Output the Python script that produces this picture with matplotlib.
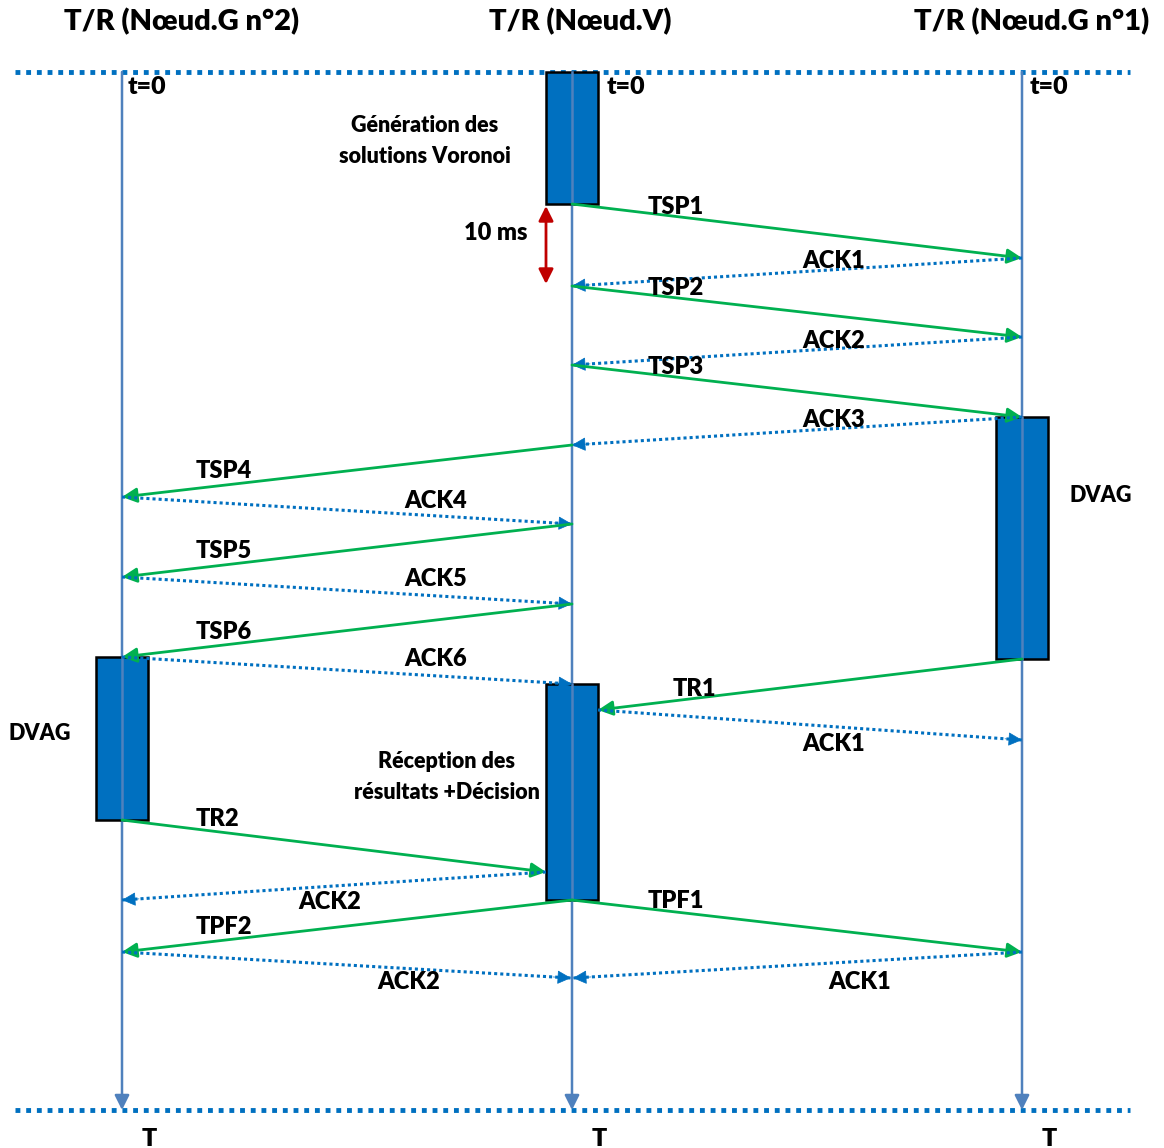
import matplotlib
matplotlib.use("Agg")
import matplotlib.pyplot as plt
from matplotlib.patches import Rectangle

plt.rcParams['font.family'] = ['Lato', 'DejaVu Sans']
plt.rcParams['font.weight'] = 'heavy'

# lifelines (x position in px) and headers
lane_names = ['G2', 'V', 'G1']
lane_x = [122, 572, 1022]
lane_titles = ['T/R (Nœud.G n°2)', 'T/R (Nœud.V)', 'T/R (Nœud.G n°1)']
lane_title_x = [182, 580, 1032]
t0_label_x = [128, 607, 1030]
t_top, t_bottom = 72, 1110

# processing blocks: lane, start, end, label, label position
block_lane = ['V', 'G1', 'G2', 'V']
block_start = [72, 417, 657, 684]
block_end = [204, 659, 820, 900]
block_text = ['Génération des\nsolutions Voronoi', 'DVAG', 'DVAG', 'Réception des\nrésultats +Décision']
block_text_xy = [(425, 141), (1101, 496), (40, 734), (447, 777)]

# messages: label, from lane, to lane, send time, receive time, kind
msg_label = ['TSP1', 'ACK1', 'TSP2', 'ACK2', 'TSP3', 'ACK3',
             'TSP4', 'ACK4', 'TSP5', 'ACK5', 'TSP6', 'ACK6',
             'TR1', 'ACK1', 'TR2', 'ACK2', 'TPF1', 'TPF2', 'ACK2', 'ACK1']
msg_src = ['V', 'G1', 'V', 'G1', 'V', 'G1',
           'V', 'G2', 'V', 'G2', 'V', 'G2',
           'G1', 'V', 'G2', 'V', 'V', 'V', 'G2', 'G1']
msg_dst = ['G1', 'V', 'G1', 'V', 'G1', 'V',
           'G2', 'V', 'G2', 'V', 'G2', 'V',
           'V', 'G1', 'V', 'G2', 'G1', 'G2', 'V', 'V']
msg_t0 = [204, 258, 286, 337, 365, 417, 445, 497, 524, 577, 604, 657,
          659, 710, 820, 872, 900, 900, 952, 952]
msg_t1 = [258, 286, 337, 365, 417, 445, 497, 524, 577, 604, 657, 684,
          710, 740, 872, 900, 952, 952, 978, 978]
msg_kind = ['data', 'ack', 'data', 'ack', 'data', 'ack',
            'data', 'ack', 'data', 'ack', 'data', 'ack',
            'data', 'ack', 'data', 'ack', 'data', 'data', 'ack', 'ack']
# messages leaving/arriving at a block edge instead of the lifeline
msg_src_off = [0]*13 + [26, 0, -26, 0, 0, 0, 0]
msg_dst_off = [0]*12 + [26, 0, -26, 0, 0, 0, -1, 1]
msg_label_xy = [(676, 207), (834, 261), (676, 288), (834, 341), (676, 367), (834, 420),
                (224, 471), (436, 501), (224, 551), (436, 579), (224, 632), (436, 659),
                (694, 689), (834, 744), (217, 819), (330, 902), (676, 901), (224, 927),
                (409, 982), (860, 982)]

GREEN = '#00B050'
BLUE = '#0070C0'
LANE = '#4F81BD'

lx = dict(zip(lane_names, lane_x))

fig = plt.figure(figsize=(11.64, 11.48), dpi=100)
ax = fig.add_axes([0, 0, 1, 1])
ax.set_xlim(0, 1164)
ax.set_ylim(1148, 0)
ax.axis('off')

# top / bottom dotted borders
for y in (t_top, t_bottom):
    ax.plot([15, 1130], [y, y], color=BLUE, lw=3.5, ls=(0, (1, 1.2)), zorder=1)

# lifelines with arrow
for name, x in zip(lane_names, lane_x):
    ax.annotate('', xy=(x, t_bottom), xytext=(x, t_top),
                arrowprops=dict(arrowstyle='-|>', color=LANE, lw=1.8, mutation_scale=22,
                                shrinkA=0, shrinkB=0), zorder=2)
for t, x in zip(lane_titles, lane_title_x):
    ax.text(x, 22, t, ha='center', va='center', fontsize=21)
for x, tx in zip(lane_x, t0_label_x):
    ax.text(tx, 87, 't=0', ha='left', va='center', fontsize=18, zorder=6)
    ax.text(x + 27, 1139, 'T', ha='center', va='center', fontsize=18)

# blocks
for lane, s, e, txt, (tx, ty) in zip(block_lane, block_start, block_end, block_text, block_text_xy):
    x = lx[lane]
    ax.add_patch(Rectangle((x - 26, s), 52, e - s, facecolor=BLUE, edgecolor='black', lw=1.8, zorder=3))
    ax.plot([x, x], [s, e], color=LANE, lw=1.8, zorder=4)
    ax.text(tx, ty, txt, ha='center', va='center', fontsize=15.5, linespacing=1.55)

# messages
for lab, s, d, t0, t1, kind, so, do, (tx, ty) in zip(msg_label, msg_src, msg_dst, msg_t0, msg_t1,
                                                      msg_kind, msg_src_off, msg_dst_off, msg_label_xy):
    x0 = lx[s] + so
    x1 = lx[d] + do
    if kind == 'data':
        ax.annotate('', xy=(x1, t1), xytext=(x0, t0),
                    arrowprops=dict(arrowstyle='-|>', color=GREEN, lw=2, mutation_scale=22,
                                    shrinkA=0, shrinkB=0), zorder=5)
    else:
        ax.plot([x0, x1], [t0, t1], color=BLUE, lw=2.2, ls=(0, (1, 1)), zorder=5)
        fx = x1 - (x1 - x0) * 0.04
        fy = t1 - (t1 - t0) * 0.04
        ax.annotate('', xy=(x1, t1), xytext=(fx, fy),
                    arrowprops=dict(arrowstyle='-|>', color=BLUE, lw=0.5, mutation_scale=22,
                                    shrinkA=0, shrinkB=0), zorder=5)
    ax.text(tx, ty, lab, ha='center', va='center', fontsize=17, zorder=6)

# 10 ms delay marker
ax.annotate('', xy=(546, 206), xytext=(546, 284),
            arrowprops=dict(arrowstyle='<|-|>', color='#C00000', lw=2, mutation_scale=22,
                            shrinkA=0, shrinkB=0))
ax.text(496, 233, '10 ms', ha='center', va='center', fontsize=17)

fig.savefig('out.png', dpi=100)
